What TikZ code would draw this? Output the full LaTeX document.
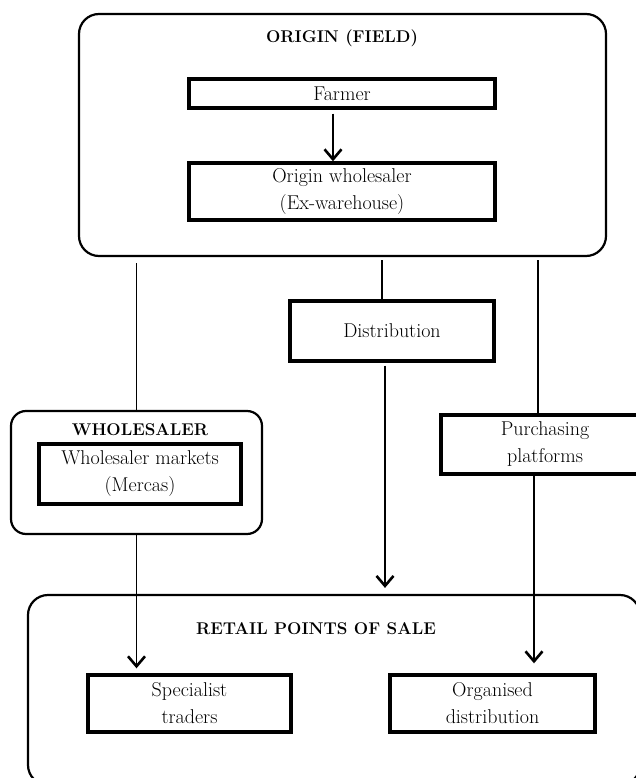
\documentclass[tikz,border=0pt]{standalone}
\usetikzlibrary{arrows.meta}
\begin{document}
\begin{tikzpicture}[x=1pt,y=-1pt,
        font=\fontsize{20}{27}\selectfont,
        group/.style={draw,line width=2.2pt,rectangle,rounded corners=20pt,inner sep=0pt},
        box/.style={draw,line width=3.4pt,rectangle,align=center,inner sep=0pt},
        title/.style={font=\fontsize{17}{20}\selectfont\bfseries},
        link/.style={line width=1.2pt},
        flow/.style={line width=1.2pt,-{Straight Barb[length=10pt,width=17pt,line width=2.6pt]}}]
        \useasboundingbox (0,0) rectangle (636,778);
        %% Origin
        \node[group,minimum width=527pt,minimum height=242pt] (origin) at (342.5,135) {};
        \node[title] (origintitle) at (342,38) {ORIGIN (FIELD)};
        \node[box,minimum width=306pt,minimum height=29pt] (farmer) at (342,93.5) {Farmer};
        \node[box,minimum width=306pt,minimum height=57pt] (originws) at (342,191.5) {Origin wholesaler\\(Ex-warehouse)};
        %% Channels
        \node[box,minimum width=204pt,minimum height=60pt] (dist) at (392,331) {Distribution};
        \node[group,rounded corners=15pt,minimum width=251pt,minimum height=123pt] (wsale) at (136.5,472.5) {};
        \node[title] (wsaletitle) at (140,430) {WHOLESALER};
        \node[box,minimum width=202pt,minimum height=60pt] (markets) at (140,474) {Wholesaler markets\\(Mercas)};
        \node[box,minimum width=208pt,minimum height=59pt] (purch) at (545,444.5) {Purchasing\\platforms};
        %% Retail
        \node[group,minimum width=612pt,minimum height=190pt] (retail) at (334,690) {};
        \node[title] (retailtitle) at (316,629) {RETAIL POINTS OF SALE};
        \node[box,minimum width=203pt,minimum height=57pt] (spec) at (189.5,703.5) {Specialist\\traders};
        \node[box,minimum width=205pt,minimum height=57pt] (org) at (492.5,703.5) {Organised\\distribution};
        %% Links
        \coordinate (farmout) at ([xshift=-9pt]farmer.south);
        \draw[flow] (farmout) ++(0,4) -- (farmout |- originws.north);
        \draw[link] (origin.south -| wsale.north) ++(0,6) -- (wsale.north);
        \coordinate (distin) at ([xshift=-10pt]dist.north);
        \draw[link] (origin.south -| distin) ++(0,3) -- (distin);
        \coordinate (purchin) at ([xshift=-7pt]purch.north);
        \draw[link] (origin.south -| purchin) ++(0,3) -- (purchin);
        \draw[flow,shorten >=5pt] (wsale.south) -- (wsale.south |- spec.north);
        \coordinate (distout) at ([xshift=-7pt]dist.south);
        \draw[flow,shorten >=6pt] (distout) ++(0,3) -- (distout |- retail.north);
        \coordinate (purchout) at ([xshift=-11pt]purch.south);
        \draw[flow,shorten >=10pt] (purchout) -- (purchout |- org.north);
    \end{tikzpicture}
\end{document}
